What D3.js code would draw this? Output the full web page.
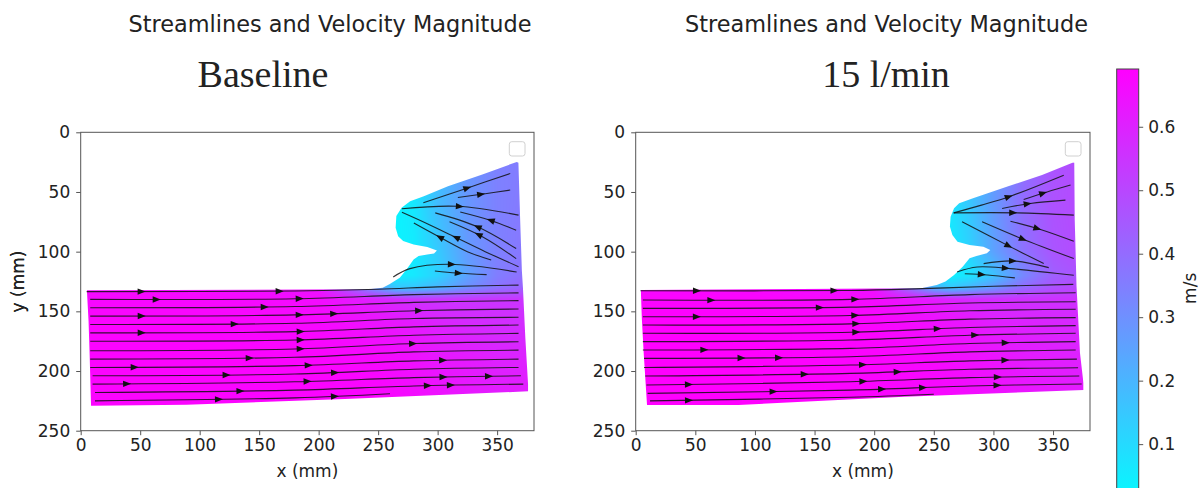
<!DOCTYPE html>
<html>
<head>
<meta charset="utf-8">
<script src="https://cdn.jsdelivr.net/npm/d3@7"></script>
<style>
  html, body { margin: 0; padding: 0; background: #fff; }
  svg { display: block; }
  text { font-family: "DejaVu Sans", sans-serif; fill: #222; }
</style>
</head>
<body>
<svg id="chart" width="1203" height="488"></svg>
<script>
// ---- axis and colour-scale settings ----
const xDomain = [0, 381];            // mm
const yDomain = [0, 250];            // mm (downwards)
const xTicks = [0, 50, 100, 150, 200, 250, 300, 350];
const yTicks = [0, 50, 100, 150, 200, 250];
const vRange = [0, 0.691];           // m/s
const colorTicks = [0.1, 0.2, 0.3, 0.4, 0.5, 0.6];

const mainTitle = "Streamlines and Velocity Magnitude";
const caseTitles = ["Baseline", "15 l/min"];

// ---- velocity magnitude sampled on a coarse grid (m/s) ----
const magX = [0, 100, 200, 250, 265, 280, 300, 325, 350, 380];
const magY = [20, 60, 100, 120, 130, 140, 160, 190, 230];

const baselineMag = [
  [0.66, 0.66, 0.66, 0.03, 0.03, 0.05, 0.15, 0.28, 0.34, 0.36],
  [0.66, 0.66, 0.66, 0.03, 0.03, 0.06, 0.18, 0.28, 0.34, 0.37],
  [0.66, 0.66, 0.66, 0.03, 0.03, 0.05, 0.14, 0.27, 0.34, 0.38],
  [0.66, 0.66, 0.66, 0.04, 0.04, 0.06, 0.12, 0.25, 0.35, 0.40],
  [0.66, 0.66, 0.64, 0.25, 0.15, 0.15, 0.20, 0.30, 0.38, 0.44],
  [0.67, 0.67, 0.66, 0.60, 0.58, 0.56, 0.55, 0.55, 0.55, 0.55],
  [0.68, 0.68, 0.67, 0.64, 0.63, 0.62, 0.60, 0.58, 0.57, 0.57],
  [0.68, 0.68, 0.68, 0.67, 0.66, 0.65, 0.63, 0.62, 0.60, 0.60],
  [0.68, 0.68, 0.68, 0.68, 0.67, 0.66, 0.65, 0.63, 0.62, 0.62]
];

const flowMag = [
  [0.66, 0.66, 0.66, 0.05, 0.08, 0.15, 0.25, 0.38, 0.46, 0.50],
  [0.66, 0.66, 0.66, 0.05, 0.07, 0.15, 0.27, 0.40, 0.47, 0.50],
  [0.66, 0.66, 0.66, 0.05, 0.06, 0.12, 0.25, 0.38, 0.46, 0.50],
  [0.66, 0.66, 0.66, 0.06, 0.04, 0.07, 0.16, 0.32, 0.43, 0.48],
  [0.67, 0.67, 0.65, 0.20, 0.15, 0.20, 0.28, 0.40, 0.47, 0.52],
  [0.68, 0.68, 0.66, 0.62, 0.60, 0.58, 0.57, 0.56, 0.56, 0.56],
  [0.69, 0.69, 0.68, 0.65, 0.64, 0.63, 0.61, 0.60, 0.59, 0.58],
  [0.69, 0.69, 0.68, 0.67, 0.66, 0.65, 0.64, 0.62, 0.61, 0.60],
  [0.69, 0.69, 0.68, 0.67, 0.67, 0.66, 0.65, 0.64, 0.63, 0.62]
];

// ---- wetted region outlines [x mm, y mm] ----
const baselineOutline = [
  [366.5, 24.8], [337.6, 35.4], [308.7, 45.2], [288.4, 53.5], [276.9, 57.7],
  [269.7, 63.3], [265.3, 70.2], [264.7, 80], [266.8, 87], [271, 91],
  [279.8, 93.9], [291.3, 96.2], [299.4, 99], [297, 101.5], [291.3, 102.3],
  [284, 103.7], [279.8, 106.5], [274, 114.8], [268.2, 121.8], [259.5, 127.4],
  [253.8, 130.2], [242.2, 131.5], [5.2, 132.4], [6.6, 158], [7.5, 186],
  [8.7, 229.1], [89, 228.3], [222, 223.5], [376, 217], [376, 211],
  [373.7, 172], [371.7, 130], [370.8, 116], [369.4, 74.4], [367.9, 25.6]
];

const flowOutline = [
  [366.8, 25.4], [340.8, 35.8], [311.8, 45.5], [282.9, 55.3], [271.3, 59.5],
  [267, 63.7], [264.1, 70.7], [263.5, 79], [265.6, 86], [269.9, 91.6],
  [280, 94.4], [291.6, 95.8], [297.4, 98.6], [294.5, 101.4], [285.8, 103.6],
  [280, 105.6], [274.2, 112.6], [267, 119.6], [259.8, 125.1], [252.5, 128],
  [239.5, 130.7], [4.3, 132.1], [5.2, 157], [6.7, 185], [9.5, 228.5],
  [86.2, 228.5], [225, 221.5], [375.5, 216], [375.5, 210], [372.6, 185],
  [369.7, 129], [368.2, 73.5], [367.8, 25.6]
];

// ---- streamlines [x mm, y mm] ----
const baselineLines = [
  [[5, 133.5], [180, 133], [250, 131.5], [300, 129.5], [368, 128]],
  [[8, 140], [180, 139.5], [280, 136], [368, 134.5]],
  [[8, 147], [180, 146], [280, 142.5], [368, 141]],
  [[8, 154], [180, 153], [280, 149.5], [368, 148]],
  [[8, 161], [180, 160], [280, 156], [368, 155]],
  [[8, 168], [180, 167], [280, 163], [368, 161.5]],
  [[8, 175], [180, 174], [280, 170], [368, 168.5]],
  [[8, 183], [180, 181.5], [280, 177], [368, 175.5]],
  [[8, 190], [180, 188.5], [280, 184], [368, 182.5]],
  [[8, 197], [180, 195.5], [280, 191.5], [368, 190]],
  [[10, 204], [180, 202.5], [280, 198.5], [368, 197]],
  [[10, 211], [180, 209], [280, 205.5], [370, 204]],
  [[12, 218], [180, 216], [280, 212.5], [372, 211]],
  [[12, 225], [180, 222.5], [260, 219]],
  [[288, 59], [324, 47], [361, 34.5]],
  [[317, 54.6], [340, 51.5], [361, 48.4]],
  [[270, 64], [317, 62], [368, 69.4]],
  [[270, 67], [290, 76], [315, 88], [340, 100], [368, 112.6]],
  [[280, 76], [302, 88], [325, 100], [345, 107]],
  [[298, 67.5], [333, 79], [366, 97.4]],
  [[310, 75], [338, 87.7], [366, 105.8]],
  [[319, 66.7], [344, 73.6], [366, 82]],
  [[262.7, 121.2], [276.7, 114.2], [310.3, 110.6], [366.4, 117]],
  [[297.7, 116.2], [316, 117.9], [341.2, 119.2]]
];

const flowLines = [
  [[4, 132.7], [180, 132.5], [240, 131], [300, 129], [367, 127.4]],
  [[6, 140.5], [180, 140], [280, 136], [369, 134.4]],
  [[6, 147.5], [180, 146.5], [280, 143], [369, 142]],
  [[6, 154.5], [180, 153.5], [280, 149.5], [369, 148.3]],
  [[6, 161.5], [180, 160.5], [280, 156.5], [369, 155.3]],
  [[6, 168.4], [180, 167.5], [280, 163.5], [369, 162]],
  [[6, 175.4], [180, 174], [280, 170], [369, 168.4]],
  [[6, 182.4], [180, 181], [280, 177], [369, 175.4]],
  [[7, 189.4], [180, 188], [280, 184], [369, 182.4]],
  [[7, 197], [180, 195], [280, 191.5], [370, 190]],
  [[8, 204.2], [180, 202], [280, 198.5], [371, 197.2]],
  [[9, 211.7], [180, 209], [280, 205.5], [372, 204.2]],
  [[10, 218.7], [180, 216], [280, 212.5], [374, 210.9]],
  [[12, 225], [180, 222], [250, 219.5]],
  [[266.7, 67.5], [290, 61], [314.3, 53.5], [359, 35.9]],
  [[325.4, 56.3], [345, 50], [364.7, 44.2]],
  [[307.3, 63.8], [331, 59.6], [360.4, 56.8]],
  [[266.7, 67.5], [319.9, 67.5], [367.4, 69.4]],
  [[273.7, 75], [314.3, 96], [342.2, 110]],
  [[290.5, 75], [325.4, 89.8], [367.4, 105.8]],
  [[314.3, 74.5], [339.5, 81.4], [367.4, 91.3]],
  [[291.8, 110], [317, 107.8], [346.4, 113.4]],
  [[269.5, 117], [286.3, 112.8], [314.3, 114.2], [367.4, 119.8]],
  [[276, 118.5], [295, 119.5], [318, 122]]
];

// ---- arrow heads [x mm, y mm, direction along line] ----
const baselineArrows = [
  [50.9, 133.5, 1], [63.6, 140, 1], [50.9, 153.8, 1], [50.9, 167.8, 1],
  [44.8, 196.2, 1], [38.4, 210.1, 1], [115.6, 223.8, 1], [133.8, 218.8, 1],
  [122.3, 203.2, 1], [141.6, 189.2, 1], [128.9, 160.3, 1], [154.3, 146.3, 1],
  [167, 133.5, 1], [183.8, 141.3, 1], [183.8, 152.5, 1], [184.4, 167, 1],
  [184.4, 174.2, 1], [184.4, 181.2, 1], [191, 193.4, 1], [212.7, 155.2, 1],
  [213.3, 198.7, 1], [190.2, 206.2, 1], [213.3, 221, 1], [284, 148.8, 1],
  [279, 176.7, 1], [304.3, 188.1, 1], [304.3, 202, 1], [291.3, 213.2, 1],
  [310.7, 215.4, 1], [342.8, 206, 1],
  [325.1, 47.9, 1], [336.1, 53, 1], [318.2, 62.7, 1], [344.8, 73.9, -1],
  [333.8, 80, -1], [333.8, 87, -1], [315.9, 87.5, -1], [301.4, 89.7, -1],
  [311.6, 111.5, 1], [317.3, 118.5, 1]
];

const flowArrows = [
  [50.9, 133.2, 1], [63, 139.7, 1], [50.9, 153.6, 1], [57.3, 182.4, 1],
  [88.5, 186.3, 1], [120, 191.3, 1], [154.2, 146.6, 1], [166.3, 132.7, 1],
  [183.7, 141.9, 1], [183.7, 152.5, 1], [184.6, 162, 1], [184.6, 169, 1],
  [190.3, 194.4, 1], [190.3, 206.7, 1], [141.2, 203.4, 1], [115.1, 217.3, 1],
  [206.3, 212.3, 1], [219.3, 198.6, 1], [240.4, 214.8, 1], [253.1, 166.5, 1],
  [284.3, 169.3, 1], [309.8, 173.5, 1], [309.8, 187.4, 1], [303.2, 202, 1],
  [303.2, 215.9, 1], [44.3, 209.5, 1], [44.3, 223.7, 1],
  [312.4, 53.1, 1], [341.3, 50.6, 1], [328.6, 60.3, 1], [316.2, 67.3, 1],
  [336.4, 80.7, 1], [324.8, 89.1, 1], [311.8, 95.8, 1], [316.2, 107.8, 1],
  [309.8, 114.8, 1], [290.1, 117.3, 1]
];

// ---- layout ----
const svg = d3.select("#chart");
const panels = [
  { left: 80.7, right: 534, title: caseTitles[0], titleX: 330, subX: 263,
    mag: baselineMag, outline: baselineOutline, lines: baselineLines, arrows: baselineArrows },
  { left: 635.7, right: 1090, title: caseTitles[1], titleX: 886.5, subX: 886,
    mag: flowMag, outline: flowOutline, lines: flowLines, arrows: flowArrows }
];
const plotTop = 132.3, plotBottom = 430.7;

const color = d3.scaleLinear().domain(vRange).range(["#00ffff", "#ff00ff"]).clamp(true);

function bracket(arr, v) {
  let i = 0;
  while (i < arr.length - 2 && v > arr[i + 1]) i++;
  const t = Math.max(0, Math.min(1, (v - arr[i]) / (arr[i + 1] - arr[i])));
  return [i, t];
}
function magAt(grid, mx, my) {
  const [i, tx] = bracket(magX, mx);
  const [j, ty] = bracket(magY, my);
  const a = grid[j][i] * (1 - tx) + grid[j][i + 1] * tx;
  const b = grid[j + 1][i] * (1 - tx) + grid[j + 1][i + 1] * tx;
  return a * (1 - ty) + b * ty;
}

panels.forEach((p, k) => {
  const w = p.right - p.left, h = plotBottom - plotTop;
  const x = d3.scaleLinear().domain(xDomain).range([0, w]);
  const y = d3.scaleLinear().domain(yDomain).range([0, h]);
  const g = svg.append("g").attr("transform", `translate(${p.left},${plotTop})`);

  // velocity magnitude raster
  const W = Math.ceil(w), H = Math.ceil(h);
  const canvas = document.createElement("canvas");
  canvas.width = W; canvas.height = H;
  const ctx = canvas.getContext("2d");
  const img = ctx.createImageData(W, H);
  for (let r = 0; r < H; r++) {
    const my = y.invert(r + 0.5);
    for (let c = 0; c < W; c++) {
      const mx = x.invert(c + 0.5);
      const col = d3.rgb(color(magAt(p.mag, mx, my)));
      const o = (r * W + c) * 4;
      img.data[o] = col.r; img.data[o + 1] = col.g; img.data[o + 2] = col.b; img.data[o + 3] = 255;
    }
  }
  ctx.putImageData(img, 0, 0);

  const clipId = "clip" + k;
  g.append("clipPath").attr("id", clipId)
    .append("path")
    .attr("d", d3.line().x(d => x(d[0])).y(d => y(d[1])).curve(d3.curveLinearClosed)(p.outline));
  g.append("image")
    .attr("href", canvas.toDataURL())
    .attr("width", W).attr("height", H)
    .attr("preserveAspectRatio", "none")
    .attr("clip-path", `url(#${clipId})`);

  // streamlines
  const lineGen = d3.line().x(d => x(d[0])).y(d => y(d[1])).curve(d3.curveCatmullRom.alpha(0.5));
  const paths = g.append("g").selectAll("path").data(p.lines).join("path")
    .attr("d", lineGen)
    .attr("fill", "none")
    .attr("stroke", "#111")
    .attr("stroke-opacity", 0.85)
    .attr("stroke-width", 1.1);

  // sample each streamline once for arrow placement
  const samples = paths.nodes().map(node => {
    const L = node.getTotalLength(), pts = [];
    for (let s = 0; s <= L; s += 0.5) { const q = node.getPointAtLength(s); pts.push([q.x, q.y, s]); }
    return { node, L, pts };
  });

  const arrowG = g.append("g");
  p.arrows.forEach(a => {
    const px = x(a[0]), py = y(a[1]);
    let best = null;
    samples.forEach(sm => sm.pts.forEach(q => {
      const d = (q[0] - px) ** 2 + (q[1] - py) ** 2;
      if (!best || d < best.d) best = { d, sm, q };
    }));
    const { sm, q } = best;
    const s0 = Math.max(0, q[2] - 2), s1 = Math.min(sm.L, q[2] + 2);
    const p0 = sm.node.getPointAtLength(s0), p1 = sm.node.getPointAtLength(s1);
    let ang = Math.atan2(p1.y - p0.y, p1.x - p0.x) * 180 / Math.PI;
    if (a[2] < 0) ang += 180;
    arrowG.append("path")
      .attr("d", "M4.5,0L-3.5,-3.2L-3.5,3.2Z")
      .attr("fill", "#111")
      .attr("transform", `translate(${q[0]},${q[1]}) rotate(${ang})`);
  });

  // empty legend frame
  g.append("rect")
    .attr("x", w - 24.7).attr("y", 9.4).attr("width", 15.7).attr("height", 14.3)
    .attr("rx", 2.5).attr("fill", "#fff").attr("fill-opacity", 0.8)
    .attr("stroke", "#d0d0d0").attr("stroke-width", 1);

  // frame
  g.append("rect").attr("width", w).attr("height", h)
    .attr("fill", "none").attr("stroke", "#555").attr("stroke-width", 1);

  // axes
  const xa = g.append("g").attr("transform", `translate(0,${h})`)
    .call(d3.axisBottom(x).tickValues(xTicks).tickSize(4.5).tickPadding(4));
  const ya = g.append("g")
    .call(d3.axisLeft(y).tickValues(yTicks).tickSize(4.5).tickPadding(6));
  [xa, ya].forEach(ax => {
    ax.select(".domain").remove();
    ax.selectAll("line").attr("stroke", "#555");
    ax.selectAll("text").attr("font-size", 17).attr("font-family", "DejaVu Sans").attr("fill", "#222");
  });

  g.append("text").attr("x", w / 2).attr("y", h + 46)
    .attr("text-anchor", "middle").attr("font-size", 17).text("x (mm)");
  g.append("text")
    .attr("transform", `translate(${18.3 - p.left + 6},${h / 2}) rotate(-90)`)
    .attr("text-anchor", "middle").attr("font-size", 17).text("y (mm)");

  // titles
  svg.append("text").attr("x", p.titleX).attr("y", 32)
    .attr("text-anchor", "middle").attr("font-size", 22.4).text(mainTitle);
  svg.append("text").attr("x", p.subX).attr("y", 87)
    .attr("text-anchor", "middle")
    .style("font-family", "'Liberation Serif', 'Times New Roman', serif")
    .attr("font-size", 38).attr("fill", "#111").text(p.title);
});

// ---- colour bar ----
const cbX = 1116.7, cbW = 22, cbTop = 69, cbBottom = 507.6;
const cy = d3.scaleLinear().domain(vRange).range([cbBottom, cbTop]);
const defs = svg.append("defs");
const grad = defs.append("linearGradient").attr("id", "cbGrad")
  .attr("x1", 0).attr("y1", 1).attr("x2", 0).attr("y2", 0);
grad.append("stop").attr("offset", 0).attr("stop-color", color(vRange[0]));
grad.append("stop").attr("offset", 1).attr("stop-color", color(vRange[1]));
svg.append("rect").attr("x", cbX).attr("y", cbTop).attr("width", cbW).attr("height", cbBottom - cbTop)
  .attr("fill", "url(#cbGrad)").attr("stroke", "#444").attr("stroke-width", 1);
const ca = svg.append("g").attr("transform", `translate(${cbX + cbW},0)`)
  .call(d3.axisRight(cy).tickValues(colorTicks).tickFormat(d3.format(".1f")).tickSize(4.5).tickPadding(5));
ca.select(".domain").remove();
ca.selectAll("line").attr("stroke", "#555");
ca.selectAll("text").attr("font-size", 17).attr("font-family", "DejaVu Sans").attr("fill", "#222");
svg.append("text")
  .attr("transform", `translate(1196,${(cbTop + cbBottom) / 2}) rotate(-90)`)
  .attr("text-anchor", "middle").attr("font-size", 17).text("m/s");
</script>
</body>
</html>
